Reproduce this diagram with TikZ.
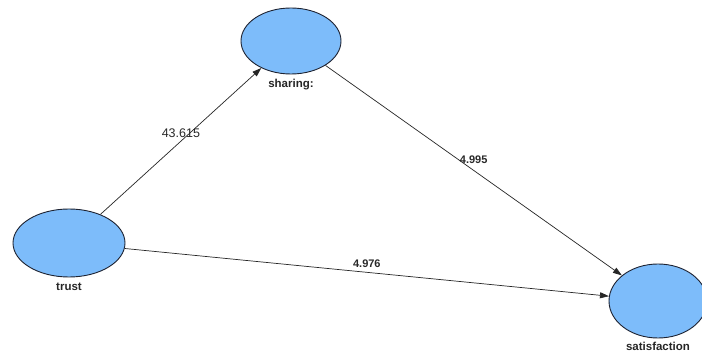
\documentclass[tikz,border=0pt]{standalone}
\usepackage{fontspec}
\setmainfont{Liberation Sans}
\usetikzlibrary{shapes.geometric,arrows.meta}
\definecolor{lvfill}{RGB}{125,188,250}
\definecolor{lvline}{RGB}{30,35,50}
\definecolor{pathtxt}{RGB}{40,40,40}
\tikzset{
  lv/.style={ellipse, draw=lvline, line width=0.9pt, fill=lvfill, inner sep=0pt},
  lvlabel/.style={font=\fontsize{11.5}{12}\selectfont\bfseries, text=black!85},
  path/.style={draw=black!85, line width=0.7pt, -{Triangle[length=9pt,width=6pt]}},
  coef/.style={font=\fontsize{11}{12}\selectfont\bfseries, text=pathtxt, inner sep=0pt},
  coefplain/.style={font=\fontsize{12.5}{13}\selectfont, text=pathtxt, inner sep=0pt}
}
\begin{document}
\begin{tikzpicture}[x=1pt,y=-1pt]
\useasboundingbox (0,0) rectangle (702,352);
\clip (0,0) rectangle (702,352);
\fill[white] (0,0) rectangle (702,352);
\node[lv, minimum width=100pt, minimum height=66pt,
  label={[lvlabel, label distance=1pt]below:sharing:}] (sharing) at (291,41) {};
\node[lv, minimum width=112pt, minimum height=68pt,
  label={[lvlabel, label distance=2pt]below:trust}] (trust) at (69,243) {};
\node[lv, minimum width=98pt, minimum height=74pt,
  label={[lvlabel, label distance=0pt]below:satisfaction}] (satisfaction) at (658,301) {};
\draw[path] (trust) -- node[coefplain, midway, yshift=8pt] {43.615} (sharing);
\draw[path] (sharing) -- node[coef, midway, yshift=11pt] {4.995} (satisfaction);
\draw[path] (trust) -- node[coef, midway, yshift=9pt] {4.976} (satisfaction);
\end{tikzpicture}
\end{document}
